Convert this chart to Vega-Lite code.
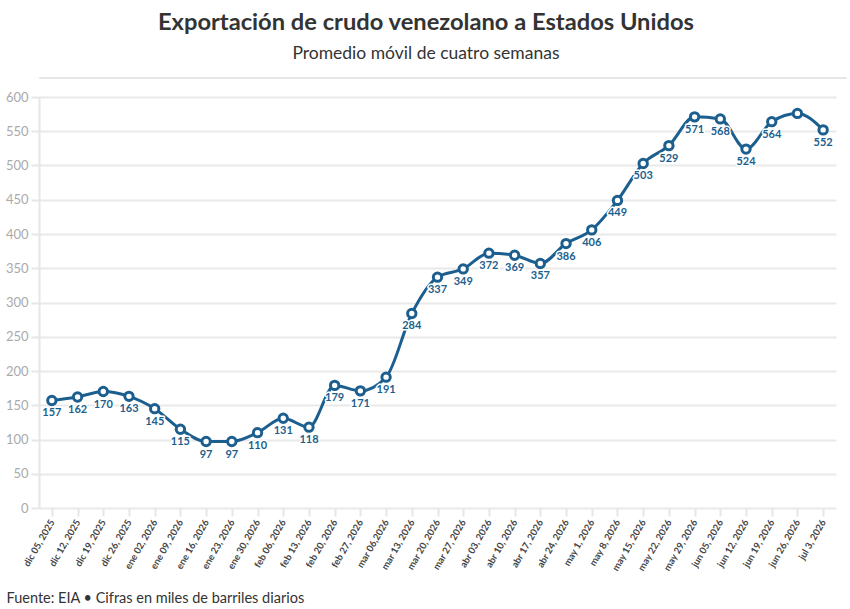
{
  "$schema": "https://vega.github.io/schema/vega-lite/v6.json",
  "background": "white",
  "padding": {"left": 5, "right": 5, "top": 11, "bottom": 2},
  "config": {
    "font": "Lato",
    "view": {"stroke": null}
  },
  "title": {
    "text": "Exportación de crudo venezolano a Estados Unidos",
    "subtitle": "Promedio móvil de cuatro semanas",
    "anchor": "middle",
    "frame": "bounds",
    "font": "Lato",
    "fontSize": 23.7,
    "fontWeight": "bold",
    "color": "#333333",
    "subtitleFont": "Lato",
    "subtitleFontSize": 17.5,
    "subtitleColor": "#333333",
    "subtitlePadding": 10,
    "offset": 14
  },
  "datasets": {
    "crudo": [
      {"semana": "dic 05, 2025", "kbd": 157, "etiqueta": "157"},
      {"semana": "dic 12, 2025", "kbd": 162, "etiqueta": "162"},
      {"semana": "dic 19, 2025", "kbd": 170, "etiqueta": "170"},
      {"semana": "dic 26, 2025", "kbd": 163, "etiqueta": "163"},
      {"semana": "ene 02, 2026", "kbd": 145, "etiqueta": "145"},
      {"semana": "ene 09, 2026", "kbd": 115, "etiqueta": "115"},
      {"semana": "ene 16, 2026", "kbd": 97, "etiqueta": "97"},
      {"semana": "ene 23, 2026", "kbd": 97, "etiqueta": "97"},
      {"semana": "ene 30, 2026", "kbd": 110, "etiqueta": "110"},
      {"semana": "feb 06, 2026", "kbd": 131, "etiqueta": "131"},
      {"semana": "feb 13, 2026", "kbd": 118, "etiqueta": "118"},
      {"semana": "feb 20, 2026", "kbd": 179, "etiqueta": "179"},
      {"semana": "feb 27, 2026", "kbd": 171, "etiqueta": "171"},
      {"semana": "mar 06,2026", "kbd": 191, "etiqueta": "191"},
      {"semana": "mar 13, 2026", "kbd": 284, "etiqueta": "284"},
      {"semana": "mar 20, 2026", "kbd": 337, "etiqueta": "337"},
      {"semana": "mar 27, 2026", "kbd": 349, "etiqueta": "349"},
      {"semana": "abr 03, 2026", "kbd": 372, "etiqueta": "372"},
      {"semana": "abr 10, 2026", "kbd": 369, "etiqueta": "369"},
      {"semana": "abr 17, 2026", "kbd": 357, "etiqueta": "357"},
      {"semana": "abr 24, 2026", "kbd": 386, "etiqueta": "386"},
      {"semana": "may 1, 2026", "kbd": 406, "etiqueta": "406"},
      {"semana": "may 8, 2026", "kbd": 449, "etiqueta": "449"},
      {"semana": "may 15, 2026", "kbd": 503, "etiqueta": "503"},
      {"semana": "may 22, 2026", "kbd": 529, "etiqueta": "529"},
      {"semana": "may 29, 2026", "kbd": 571, "etiqueta": "571"},
      {"semana": "jun 05, 2026", "kbd": 568, "etiqueta": "568"},
      {"semana": "jun 12, 2026", "kbd": 524, "etiqueta": "524"},
      {"semana": "jun 19, 2026", "kbd": 564, "etiqueta": "564"},
      {"semana": "jun 26, 2026", "kbd": 576, "etiqueta": ""},
      {"semana": "jul 3, 2026", "kbd": 552, "etiqueta": "552"}
    ]
  },
  "spacing": 12,
  "vconcat": [
    {
      "width": 807,
      "height": 1,
      "view": {"stroke": "#e6e6e6", "strokeWidth": 1},
      "data": {"values": []},
      "mark": {"type": "point", "opacity": 0},
      "encoding": {}
    },
    {
      "width": 797,
      "height": 411,
      "data": {"name": "crudo"},
      "encoding": {
        "x": {
          "field": "semana",
          "type": "ordinal",
          "sort": null,
          "scale": {"type": "point", "padding": 0.5},
          "axis": {
            "title": "Fuente: EIA • Cifras en miles de barriles diarios",
            "titleFont": "Lato",
            "titleFontSize": 14.5,
            "titleFontWeight": "normal",
            "titleColor": "#333333",
            "titleAnchor": "start",
            "titleAlign": "left",
            "titleX": -33,
            "titlePadding": 19,
            "labelAngle": -60,
            "labelFont": "Lato",
            "labelFontSize": 9.5,
            "labelFontWeight": "bold",
            "labelColor": "#444444",
            "labelPadding": 4,
            "domain": false,
            "ticks": true,
            "tickColor": "#e6e6e6",
            "tickWidth": 2,
            "tickSize": 8,
            "grid": false
          }
        },
        "y": {
          "field": "kbd",
          "type": "quantitative",
          "scale": {"domain": [0, 600]},
          "axis": {
            "title": null,
            "values": [0, 50, 100, 150, 200, 250, 300, 350, 400, 450, 500, 550, 600],
            "labelFont": "Lato",
            "labelFontSize": 13,
            "labelColor": "#aaaaaa",
            "labelPadding": 3,
            "domain": true,
            "domainColor": "#e6e6e6",
            "domainWidth": 2,
            "ticks": true,
            "tickColor": "#e6e6e6",
            "tickWidth": 2,
            "tickSize": 8,
            "grid": true,
            "gridColor": "#e9e9e9",
            "gridWidth": 2
          }
        }
      },
      "layer": [
        {
          "mark": {"type": "line", "interpolate": "monotone", "color": "#1c5f8e", "strokeWidth": 3}
        },
        {
          "mark": {"type": "point", "shape": "circle", "filled": true, "fill": "white", "stroke": "#1c5f8e", "strokeWidth": 3, "size": 70, "opacity": 1}
        },
        {
          "mark": {"type": "text", "dy": 13, "fontSize": 11, "fontWeight": "bold", "font": "Lato", "stroke": "white", "strokeWidth": 3, "strokeJoin": "round", "fill": "white"},
          "encoding": {"text": {"field": "etiqueta"}}
        },
        {
          "mark": {"type": "text", "dy": 13, "fontSize": 11, "fontWeight": "bold", "font": "Lato", "color": "#1c5f8e"},
          "encoding": {"text": {"field": "etiqueta"}}
        }
      ]
    }
  ]
}
